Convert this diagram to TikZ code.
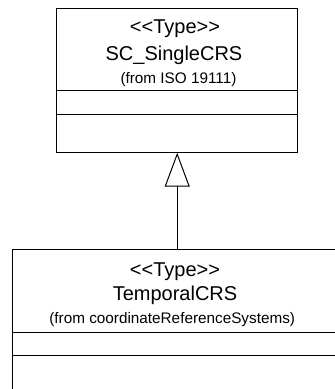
\documentclass[tikz,border=0pt]{standalone}
\usepackage{fontspec}
\setmainfont{Liberation Sans}
\usetikzlibrary{arrows.meta}

\begin{document}
\begin{tikzpicture}[x=1pt, y=-1pt, line width=1pt,
  classbox/.style={draw, anchor=north west, inner sep=0pt},
  bigtext/.style={anchor=base, inner sep=0pt, font=\fontsize{20}{24}\selectfont},
  smalltext/.style={anchor=base, inner sep=0pt, font=\fontsize{15.3}{18}\selectfont}]
  \useasboundingbox (0,0) rectangle (335,389);
  \clip (0,0) rectangle (335,389);

  % upper class
  \node[classbox, minimum width=241.4pt, minimum height=143.7pt] (single) at (56,8) {};
  \draw ([yshift=-82.7pt]single.north west) -- ([yshift=-82.7pt]single.north east);
  \draw ([yshift=-106pt]single.north west) -- ([yshift=-106pt]single.north east);
  \node[bigtext] (singlestereo) at (175,33) {<\kern0pt<Type>\kern0pt>};
  \node[bigtext] (singlename) at (174,60) {SC\_SingleCRS};
  \node[smalltext] (singlefrom) at (178.5,83) {(from ISO 19111)};

  % lower class
  \node[classbox, minimum width=330pt, minimum height=160pt] (temporal) at (11.7,249.3) {};
  \draw ([yshift=-83.4pt]temporal.north west) -- ([yshift=-83.4pt]temporal.north east);
  \draw ([yshift=-105.7pt]temporal.north west) -- ([yshift=-105.7pt]temporal.north east);
  \node[bigtext] (temporalstereo) at (175,276) {<\kern0pt<Type>\kern0pt>};
  \node[bigtext] (temporalname) at (175,300) {TemporalCRS};
  \node[smalltext] (temporalfrom) at (172.2,323) {(from coordinateReferenceSystems)};

  % generalization
  \draw[-{Triangle[open, length=34pt, width=25pt]}] (temporal.north) -- (single.south);
\end{tikzpicture}
\end{document}
